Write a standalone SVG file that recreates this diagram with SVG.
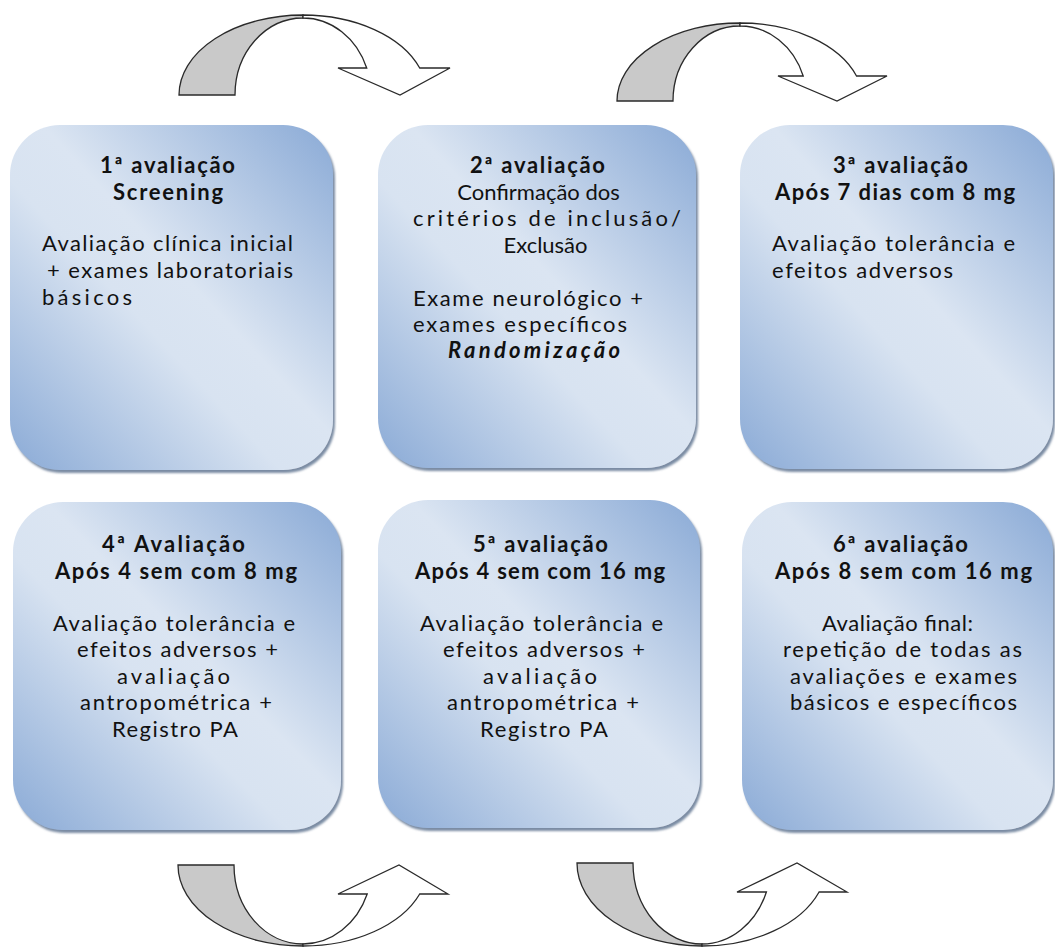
<svg xmlns="http://www.w3.org/2000/svg" width="1055" height="947" viewBox="0 0 1055 947">
<style>
.box{fill:url(#g);filter:url(#sh)}
text{font-family:Lato,"Open Sans","Liberation Sans",sans-serif;font-size:22px;fill:#111}
.b{font-weight:bold}
.bi{font-weight:bold;font-style:italic}
.m{text-anchor:middle}
.grey{fill:#c9c9c9;stroke:#2a2a2a;stroke-width:1.3;stroke-linejoin:miter}
.white{fill:#ffffff;stroke:#2a2a2a;stroke-width:1.3;stroke-linejoin:miter}
</style>
<defs>
<linearGradient id="g" x1="1" y1="0" x2="0" y2="1">
<stop offset="0" stop-color="#8aaad6"/>
<stop offset="0.45" stop-color="#dbe5f2"/>
<stop offset="0.58" stop-color="#d8e3f1"/>
<stop offset="1" stop-color="#8aaad6"/>
</linearGradient>
<filter id="sh" x="-5%" y="-5%" width="110%" height="110%">
<feGaussianBlur in="SourceAlpha" stdDeviation="1.2" result="bl"/>
<feOffset in="bl" dx="1.5" dy="2.5" result="of"/>
<feFlood flood-color="#4f6685" flood-opacity="0.75"/>
<feComposite in2="of" operator="in" result="s"/>
<feMerge><feMergeNode in="s"/><feMergeNode in="SourceGraphic"/></feMerge>
</filter>
</defs>
<rect width="1055" height="947" fill="#ffffff"/>

<g id="connectors">
<g id="arrow-top-left">
<path class="grey" d="M179,95 A124 80 0 0 1 303,15 L303,18 A68 77 0 0 0 235,95 Z"/>
<path class="white" d="M303,18 A68 77 0 0 1 366.7,68 L338,68 L400,95 L450,68 L419.7,68 A124 80 0 0 0 303,15 Z"/>
</g>
<g id="arrow-top-right">
<path class="grey" d="M617,101 A123 78 0 0 1 740,23 L740,26 A67 75 0 0 0 673,101 Z"/>
<path class="white" d="M740,26 A67 75 0 0 1 803.2,76 L778,76 L837,101 L887,76 L856.5,76 A123 78 0 0 0 740,23 Z"/>
</g>
<g id="arrow-bottom-left">
<path class="grey" d="M178,865 A125 81 0 0 0 303,946 L303,944 A69 79 0 0 1 234,865 Z"/>
<path class="white" d="M303,944 A69 79 0 0 0 367.2,894 L338,894 L399,865 L448,894 L419.7,894 A125 81 0 0 1 303,946 Z"/>
</g>
<g id="arrow-bottom-right">
<path class="grey" d="M577,863 A125 83 0 0 0 702,946 L702,944 A69 81 0 0 1 633,863 Z"/>
<path class="white" d="M702,944 A69 81 0 0 0 766.4,892 L737,892 L797,863 L847,892 L819.1,892 A125 83 0 0 1 702,946 Z"/>
</g>
</g>

<g id="node1">
<rect class="box" x="10" y="125" width="323" height="345" rx="50"/>
<text class="b m" x="167.5" y="173" textLength="135">1ª avaliação</text>
<text class="b m" x="168" y="200" textLength="110">Screening</text>
<text x="42" y="251" textLength="251">Avaliação clínica inicial</text>
<text x="47" y="278" textLength="246">+ exames laboratoriais</text>
<text x="42" y="305" textLength="90">básicos</text>
</g>

<g id="node2">
<rect class="box" x="378" y="125" width="318" height="343" rx="50"/>
<text class="b m" x="537.5" y="173" textLength="135">2ª avaliação</text>
<text class="m" x="538.5" y="200">Confirmação dos</text>
<text x="413" y="226" textLength="268">critérios de inclusão/</text>
<text class="m" x="545.5" y="253">Exclusão</text>
<text x="413" y="306" textLength="230">Exame neurológico +</text>
<text x="413" y="332" textLength="214">exames específicos</text>
<text class="bi" x="448" y="358" textLength="172">Randomização</text>
</g>

<g id="node3">
<rect class="box" x="740" y="125" width="313" height="344" rx="50"/>
<text class="b m" x="900.5" y="173" textLength="135">3ª avaliação</text>
<text class="b m" x="895" y="200" textLength="240">Após 7 dias com 8 mg</text>
<text x="772" y="251" textLength="243">Avaliação tolerância e</text>
<text x="772" y="278" textLength="181">efeitos adversos</text>
</g>

<g id="node4">
<rect class="box" x="13" y="502" width="328" height="328" rx="50"/>
<text class="b m" x="173.5" y="552" textLength="143">4ª Avaliação</text>
<text class="b m" x="176" y="579" textLength="242">Após 4 sem com 8 mg</text>
<text class="m" x="174" y="631" textLength="242">Avaliação tolerância e</text>
<text class="m" x="177.5" y="657" textLength="201">efeitos adversos +</text>
<text class="m" x="173.5" y="684" textLength="113">avaliação</text>
<text class="m" x="176" y="710" textLength="192">antropométrica +</text>
<text class="m" x="175" y="737" textLength="126">Registro PA</text>
</g>

<g id="node5">
<rect class="box" x="378" y="500" width="322" height="328" rx="50"/>
<text class="b m" x="540.5" y="552" textLength="135">5ª avaliação</text>
<text class="b m" x="540" y="579" textLength="250">Após 4 sem com 16 mg</text>
<text class="m" x="541.5" y="631" textLength="243">Avaliação tolerância e</text>
<text class="m" x="544" y="657" textLength="202">efeitos adversos +</text>
<text class="m" x="540" y="684" textLength="114">avaliação</text>
<text class="m" x="543" y="710" textLength="192">antropométrica +</text>
<text class="m" x="544" y="737" textLength="128">Registro PA</text>
</g>

<g id="node6">
<rect class="box" x="742" y="502" width="311" height="328" rx="50"/>
<text class="b m" x="900.5" y="552" textLength="135">6ª avaliação</text>
<text class="b m" x="903.5" y="579" textLength="257">Após 8 sem com 16 mg</text>
<text class="m" x="897.5" y="631" textLength="151">Avaliação final:</text>
<text class="m" x="902.5" y="657" textLength="239">repetição de todas as</text>
<text class="m" x="903.5" y="684" textLength="227">avaliações e exames</text>
<text class="m" x="903.5" y="710" textLength="227">básicos e específicos</text>
</g>
</svg>
